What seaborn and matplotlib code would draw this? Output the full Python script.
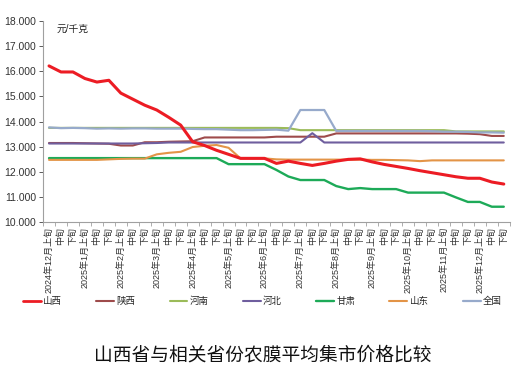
import numpy as np
import pandas as pd
import matplotlib
matplotlib.use("Agg")
import matplotlib.pyplot as plt
import seaborn as sns
from matplotlib.lines import Line2D
from matplotlib.ticker import FixedLocator, MultipleLocator

# ---------------- data ----------------
months = ["2024年12月"] + [f"2025年{m}月" for m in range(1, 13)]
labels = []
for m in months:
    labels += [m + "上旬", "中旬", "下旬"]

provinces = ["山西", "陕西", "河南", "河北", "甘肃", "山东", "全国"]

shanxi = [16.21, 15.97, 15.97, 15.71, 15.57, 15.64, 15.13, 14.89, 14.65, 14.46,
          14.17, 13.86, 13.20, 13.05, 12.86, 12.70, 12.54, 12.54, 12.54, 12.34,
          12.43, 12.34, 12.26, 12.34, 12.43, 12.50, 12.52, 12.40, 12.30, 12.22,
          12.14, 12.05, 11.97, 11.89, 11.81, 11.75, 11.75, 11.60, 11.52]
shaanxi = [13.15, 13.15, 13.15, 13.14, 13.13, 13.12, 13.05, 13.05, 13.18, 13.18,
           13.20, 13.21, 13.22, 13.37, 13.37, 13.37, 13.37, 13.37, 13.37, 13.40,
           13.40, 13.40, 13.40, 13.40, 13.53, 13.53, 13.53, 13.53, 13.53, 13.53,
           13.53, 13.53, 13.53, 13.53, 13.53, 13.52, 13.50, 13.43, 13.43]
henan = [13.75, 13.75, 13.75, 13.75, 13.75, 13.75, 13.75, 13.75, 13.75, 13.75,
         13.75, 13.75, 13.75, 13.75, 13.75, 13.75, 13.75, 13.75, 13.75, 13.75,
         13.74, 13.66, 13.66, 13.66, 13.66, 13.66, 13.66, 13.66, 13.66, 13.66,
         13.66, 13.66, 13.66, 13.66, 13.61, 13.61, 13.61, 13.61, 13.61]
hebei = [13.13, 13.13, 13.13, 13.13, 13.13, 13.13, 13.13, 13.13, 13.14, 13.15,
         13.17, 13.17, 13.17, 13.17, 13.17, 13.17, 13.17, 13.17, 13.17, 13.17,
         13.17, 13.17, 13.54, 13.17, 13.17, 13.17, 13.17, 13.17, 13.17, 13.17,
         13.17, 13.17, 13.17, 13.17, 13.17, 13.17, 13.17, 13.17, 13.17]
gansu = [12.55, 12.55, 12.55, 12.55, 12.55, 12.55, 12.55, 12.55, 12.55, 12.55,
         12.55, 12.55, 12.55, 12.55, 12.55, 12.31, 12.31, 12.31, 12.31, 12.08,
         11.82, 11.68, 11.68, 11.68, 11.44, 11.32, 11.36, 11.32, 11.32, 11.32,
         11.18, 11.18, 11.18, 11.18, 10.99, 10.81, 10.81, 10.62, 10.62]
shandong = [12.48, 12.48, 12.48, 12.48, 12.48, 12.50, 12.52, 12.53, 12.53, 12.70,
            12.76, 12.80, 12.99, 13.04, 13.07, 12.96, 12.54, 12.54, 12.54, 12.50,
            12.49, 12.49, 12.49, 12.49, 12.49, 12.49, 12.49, 12.48, 12.48, 12.47,
            12.46, 12.43, 12.46, 12.46, 12.46, 12.46, 12.46, 12.46, 12.46]
national = [13.77, 13.74, 13.75, 13.74, 13.72, 13.73, 13.72, 13.73, 13.73, 13.72,
            13.72, 13.72, 13.71, 13.70, 13.70, 13.68, 13.66, 13.66, 13.67, 13.68,
            13.64, 14.46, 14.46, 14.46, 13.63, 13.63, 13.63, 13.63, 13.63, 13.63,
            13.63, 13.63, 13.62, 13.60, 13.60, 13.59, 13.57, 13.57, 13.56]

series = [shanxi, shaanxi, henan, hebei, gansu, shandong, national]
colors = ["#EC1C24", "#9E4B4B", "#9BBB59", "#6F5E9E", "#1DAA58", "#E39447", "#97AACB"]
widths = [2.2, 1.5, 1.5, 1.5, 1.7, 1.5, 1.6]

rows = []
for name, vals in zip(provinces, series):
    for i, v in enumerate(vals):
        rows.append({"idx": i, "price": v, "province": name})
df = pd.DataFrame(rows)

# ---------------- style ----------------
sns.set_theme(style="white")
plt.rcParams["font.family"] = ["Liberation Sans", "Noto Sans CJK SC"]
plt.rcParams["axes.unicode_minus"] = False

fig = plt.figure(figsize=(5.25, 3.86), dpi=100)
ax = fig.add_axes([0.082, 0.424, 0.889, 0.522])

draw_order = ["陕西", "河南", "河北", "甘肃", "山东", "全国", "山西"]
palette = dict(zip(provinces, colors))
lw = dict(zip(provinces, widths))
for name in draw_order:
    sub = df[df["province"] == name]
    sns.lineplot(data=sub, x="idx", y="price", color=palette[name],
                 linewidth=lw[name], ax=ax, legend=False)

ax.set_xlim(-0.5, len(labels) - 0.5)
ax.set_ylim(10, 18)
ax.set_xlabel("")
ax.set_ylabel("")

ax.yaxis.set_major_locator(MultipleLocator(1))
ax.set_yticklabels([f"{v:.3f}" for v in ax.get_yticks()])
ax.tick_params(axis="y", labelsize=7.5, colors="#404040", length=3,
               width=0.6, direction="out", left=True, pad=2)
for t in ax.get_yticklabels():
    t.set_color("#333333")

ax.set_xticks(range(len(labels)))
ax.set_xticklabels(labels, rotation=90, fontsize=6.5, color="#333333")
ax.tick_params(axis="x", length=0, pad=3)
ax.xaxis.set_minor_locator(FixedLocator(np.arange(-0.5, len(labels), 1)))
ax.tick_params(axis="x", which="minor", length=3, width=0.6,
               color="#A0A0A0", direction="out", bottom=True)
for t in ax.get_xticklabels():
    t.set_verticalalignment("top")

for s in ["top", "right"]:
    ax.spines[s].set_visible(False)
for s in ["left", "bottom"]:
    ax.spines[s].set_color("#A0A0A0")
    ax.spines[s].set_linewidth(0.8)

ax.text(0.03, 0.985, "元/千克", transform=ax.transAxes, fontsize=7,
        ha="left", va="top", color="#222222")

handles = [Line2D([0], [0], color=c, lw=min(w, 2.0)) for c, w in zip(colors, widths)]
fig.legend(handles, provinces, loc="center", bbox_to_anchor=(0.5, 0.22),
           ncol=7, frameon=False, fontsize=6.8, handlelength=1.9,
           handletextpad=0.25, columnspacing=3.6)

fig.text(0.5, 0.078, "山西省与相关省份农膜平均集市价格比较", ha="center",
         va="center", fontsize=13.5, color="#111111")

fig.savefig("out.png", dpi=100, facecolor="white")
